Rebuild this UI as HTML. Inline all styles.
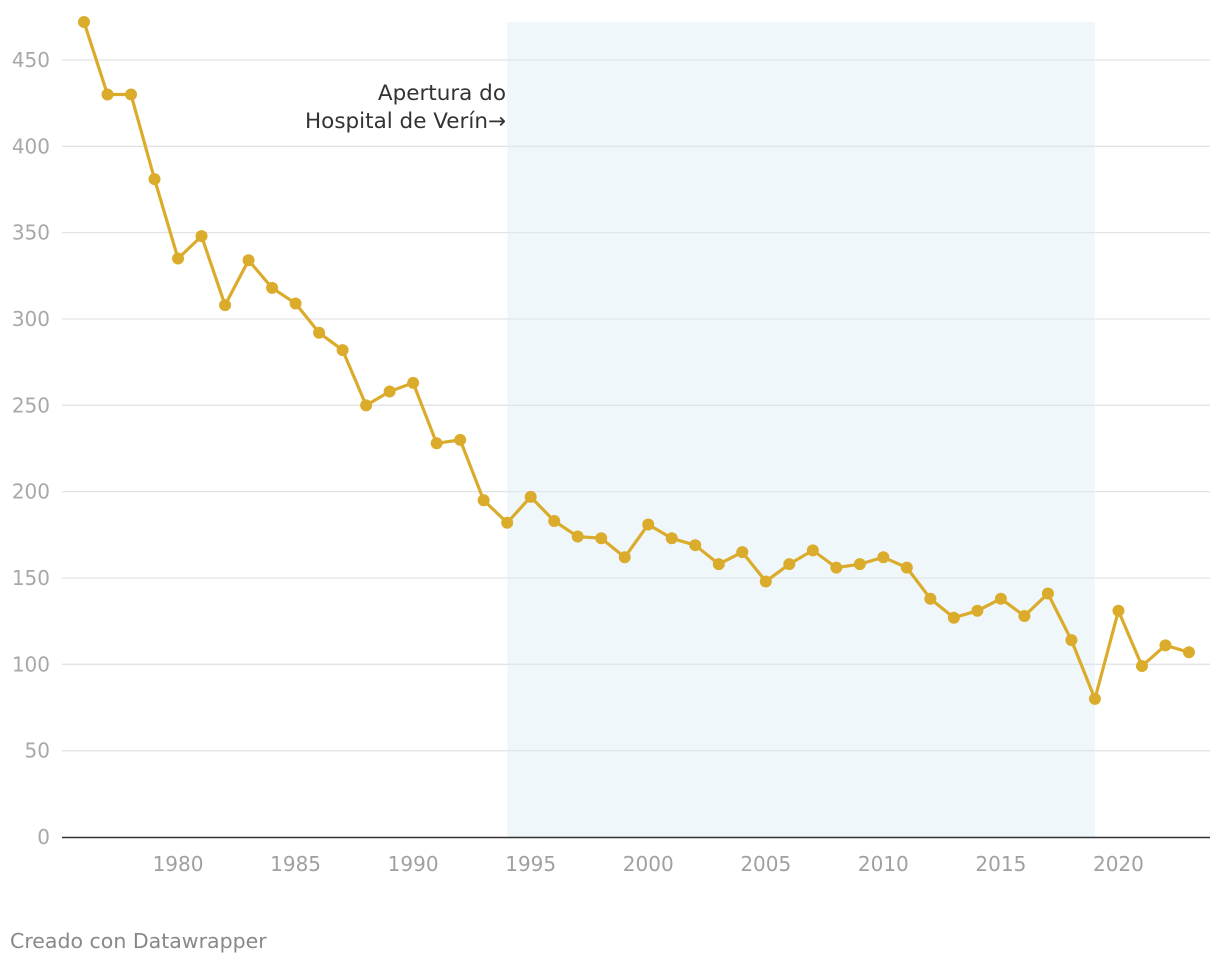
<!DOCTYPE html>
<html><head><meta charset="utf-8"><style>
body{margin:0;background:#fff;width:1220px;height:964px;overflow:hidden;font-family:"DejaVu Sans","Liberation Sans",sans-serif}
</style></head><body>
<svg id="chart" width="1220" height="964" xmlns="http://www.w3.org/2000/svg" style="position:absolute;left:0;top:0">
<g id="grid"></g>
<rect id="shade" fill="#eff7fb"></rect>
<g id="grid2"></g>
<g id="yl"></g>
<g id="xl"></g>
<line x1="62" x2="1210" y1="837.5" y2="837.5" stroke="#333" stroke-width="1.5"/>
<path id="line" fill="none" stroke="#dbac2b" stroke-width="3.2" stroke-linejoin="round"/>
<g id="dots"></g>
<text x="506" y="100" text-anchor="end" font-size="21.5" fill="#333">Apertura do</text>
<text x="506" y="128" text-anchor="end" font-size="21.5" fill="#333">Hospital de Verín→</text>
<text x="10" y="948" font-size="20.5" fill="#888">Creado con Datawrapper</text>
</svg>
<script>
const years=[1976,1977,1978,1979,1980,1981,1982,1983,1984,1985,1986,1987,1988,1989,1990,1991,1992,1993,1994,1995,1996,1997,1998,1999,2000,2001,2002,2003,2004,2005,2006,2007,2008,2009,2010,2011,2012,2013,2014,2015,2016,2017,2018,2019,2020,2021,2022,2023];
const values=[472,430,430,381,335,348,308,334,318,309,292,282,250,258,263,228,230,195,182,197,183,174,173,162,181,173,169,158,165,148,158,166,156,158,162,156,138,127,131,138,128,141,114,80,131,99,111,107];
const yTicks=[0,50,100,150,200,250,300,350,400,450];
const xTicks=[1980,1985,1990,1995,2000,2005,2010,2015,2020];
const shadeRange=[1994,2019];
const NS="http://www.w3.org/2000/svg";
const x=v=>84+(v-1976)*23.51;
const y=v=>837-v*1.7267;
function mk(t,a,p){const e=document.createElementNS(NS,t);for(const k in a)e.setAttribute(k,a[k]);p.appendChild(e);return e;}
const g=document.getElementById('grid'),yl=document.getElementById('yl'),xl=document.getElementById('xl');
yTicks.forEach(t=>{if(t>0){const l=mk('line',{x1:62,x2:1210,y1:y(t),y2:y(t),stroke:'#e3e3e3','stroke-width':1.3},g);

}
const tx=mk('text',{x:50,y:y(t)+7,'text-anchor':'end','font-size':20,fill:'#a8a8a8'},yl);tx.textContent=t;

});
xTicks.forEach(t=>{const tx=mk('text',{x:x(t),y:871,'text-anchor':'middle','font-size':20,fill:'#a0a0a0'},xl);tx.textContent=t;

});
const s=document.getElementById('shade');
s.setAttribute('x',x(shadeRange[0]));s.setAttribute('width',x(shadeRange[1])-x(shadeRange[0]));s.setAttribute('y',22);s.setAttribute('height',837-22);
const g2=document.getElementById('grid2');
yTicks.forEach(t=>{if(t>0){const l=mk('line',{x1:x(shadeRange[0]),x2:x(shadeRange[1]),y1:y(t),y2:y(t),stroke:'#e3e6e8','stroke-width':1.3},g2);

}});
document.getElementById('line').setAttribute('d',years.map((yr,i)=>(i?'L':'M')+x(yr)+','+y(values[i])).join(''));
const d=document.getElementById('dots');
years.forEach((yr,i)=>{const c=mk('circle',{cx:x(yr),cy:y(values[i]),r:6,fill:'#dbac2b'},d);

});
</script>
</body></html>
